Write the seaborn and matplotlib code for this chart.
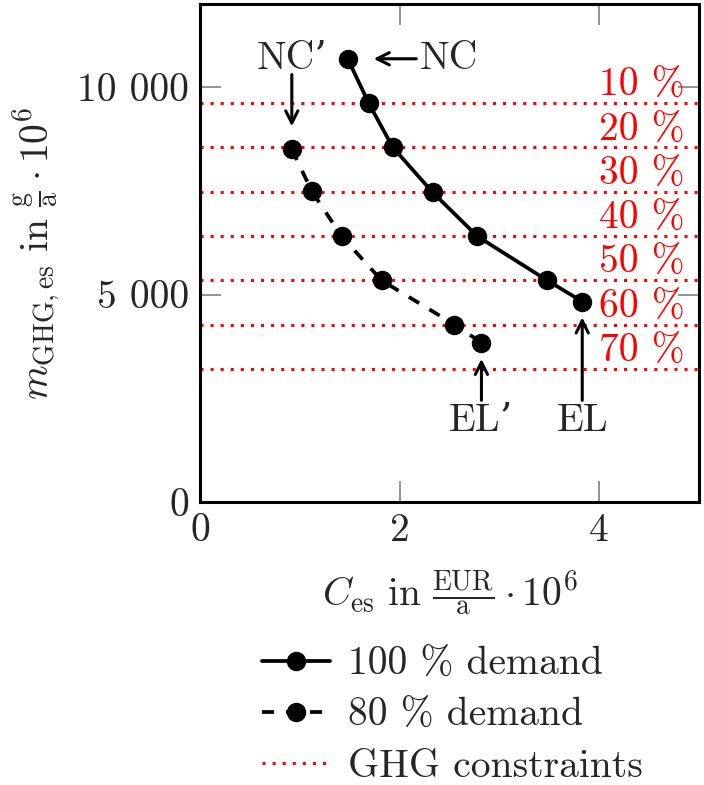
import matplotlib
matplotlib.use("Agg")
import matplotlib.pyplot as plt
import seaborn as sns
import pandas as pd
from matplotlib.lines import Line2D
from matplotlib.ticker import FuncFormatter

# ---- data ----
cost_100 = [1.48, 1.69, 1.93, 2.33, 2.78, 3.48, 3.83]
ghg_100 = [10680, 9614, 8551, 7464, 6401, 5338, 4831]
cost_80 = [0.92, 1.12, 1.42, 1.82, 2.55, 2.82]
ghg_80 = [8502, 7488, 6401, 5338, 4275, 3841]
reduction_pct = [10, 20, 30, 40, 50, 60, 70]
ghg_reference = 10680
constraint_values = [ghg_reference * (1 - p / 100) for p in reduction_pct]
constraint_labels = [f"{p} %" for p in reduction_pct]
x_ticks = [0, 2, 4]
y_ticks = [0, 5000, 10000]

sns.set_theme(style="white")
plt.rcParams["font.family"] = ["cmr10", "DejaVu Serif"]
plt.rcParams["mathtext.fontset"] = "cm"
plt.rcParams["axes.unicode_minus"] = False
FS = 28.5

fig = plt.figure(figsize=(7.04, 7.85), dpi=100)
ax = fig.add_axes([200 / 704, 1 - 502 / 785, 499 / 704, 498 / 785])

df100 = pd.DataFrame({"cost": cost_100, "ghg": ghg_100})
df80 = pd.DataFrame({"cost": cost_80, "ghg": ghg_80})

for v in constraint_values:
    ax.axhline(v, color="#ff0000", lw=2.2, linestyle=(0, (1, 2.3)), dash_capstyle="butt", zorder=1)

sns.lineplot(data=df100, x="cost", y="ghg", ax=ax, sort=False, color="black",
             lw=2.7, marker="o", markersize=14, markeredgewidth=0, zorder=3)
sns.lineplot(data=df80, x="cost", y="ghg", ax=ax, sort=False, color="black",
             lw=2.7, marker="o", markersize=14, markeredgewidth=0, zorder=3)
ax.lines[-1].set_dashes([3.2, 3.2])

for v, lab in zip(constraint_values, constraint_labels):
    ax.text(4.86, v + 170, lab, color="#ff0000", fontsize=FS, ha="right", va="baseline", zorder=2)

ax.set_xlim(0, 5)
ax.set_ylim(0, 12000)
ax.set_xticks(x_ticks)
ax.set_yticks(y_ticks)
ax.yaxis.set_major_formatter(FuncFormatter(lambda v, p: f"{int(v):,}".replace(",", " ")))
ax.xaxis.set_major_formatter(FuncFormatter(lambda v, p: f"{int(v)}"))
ax.tick_params(direction="in", length=15, width=1.2, color="#808080", labelsize=FS,
               top=True, right=True, bottom=True, left=True, pad=8)
for s in ax.spines.values():
    s.set_linewidth(2.2)
    s.set_color("black")

ax.set_xlabel(r"$C_{\mathrm{es}}\ \mathrm{in}\ \frac{\mathrm{EUR}}{\mathrm{a}}\cdot 10^6$", fontsize=FS, labelpad=14)
ax.set_ylabel(r"$m_{\mathrm{GHG,es}}\ \mathrm{in}\ \frac{\mathrm{g}}{\mathrm{a}}\cdot 10^6$", fontsize=FS, labelpad=10)

arrow = dict(arrowstyle="->", color="black", lw=2.2, mutation_scale=22, shrinkA=0, shrinkB=0)
ax.annotate("NC", xy=(1.74, 10680), xytext=(2.2, 10680), fontsize=FS, ha="left", va="center", arrowprops=arrow)
ax.text(0.92, 10680, "NC’", fontsize=FS, ha="center", va="center")
ax.annotate("", xy=(0.92, 9050), xytext=(0.92, 10300), arrowprops=arrow)
ax.text(2.82, 1950, "EL’", fontsize=FS, ha="center", va="center")
ax.annotate("", xy=(2.82, 3450), xytext=(2.82, 2450), arrowprops=arrow)
ax.text(3.83, 1950, "EL", fontsize=FS, ha="center", va="center")
ax.annotate("", xy=(3.83, 4450), xytext=(3.83, 2450), arrowprops=arrow)

handles = [
    Line2D([], [], color="black", lw=2.7, marker="o", markersize=14, markeredgewidth=0),
    Line2D([], [], color="black", lw=2.7, marker="o", markersize=14, markeredgewidth=0, dashes=[3.2, 3.2]),
    Line2D([], [], color="#ff0000", lw=2.2, linestyle=(0, (1, 2.3)), dash_capstyle="butt"),
]
labels = ["100 % demand", "80 % demand", "GHG constraints"]
leg = fig.legend(handles, labels, loc="center left", bbox_to_anchor=(262 / 704, 1 - 716 / 785),
                 frameon=False, borderpad=0, borderaxespad=0,
                 fontsize=FS, handlelength=1.72, handletextpad=0.45, labelspacing=0.38)

fig.savefig("out.png", dpi=100)
